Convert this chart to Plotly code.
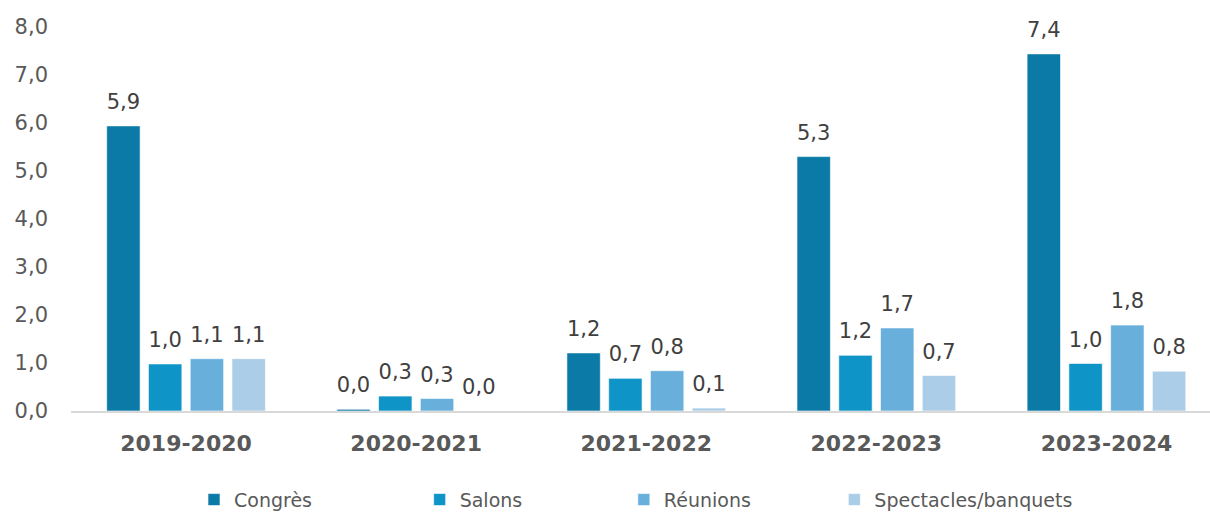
import plotly.graph_objects as go

SAISONS = ["2019-2020", "2020-2021", "2021-2022", "2022-2023", "2023-2024"]
CONGRES = [5.94, 0.035, 1.21, 5.30, 7.44]
SALONS = [0.98, 0.31, 0.68, 1.16, 0.99]
REUNIONS = [1.09, 0.26, 0.84, 1.73, 1.79]
SPECTACLES = [1.09, 0.0, 0.06, 0.74, 0.83]
Y_TICKS = [0, 1, 2, 3, 4, 5, 6, 7, 8]

SERIES = [
    ("Congrès", CONGRES, "#0b7aa6", 17),
    ("Salons", SALONS, "#0f94c7", 16),
    ("Réunions", REUNIONS, "#69afdb", 13),
    ("Spectacles/banquets", SPECTACLES, "#abcde8", 0),
]

FONT = "DejaVu Sans, sans-serif"
GAP = 0.274

fig = go.Figure()
for i, (name, vals, color, pad) in enumerate(SERIES):
    # espaces insécables : écart entre les entrées de légende
    fig.add_bar(
        x=SAISONS, y=vals, name=name + "\u00a0" * pad,
        offsetgroup=str(i),
        marker=dict(color=color, line=dict(color="rgba(255,255,255,0.6)", width=1)),
    )
# étiquettes de valeur (scatter groupé pour garder l'écart au-dessus des barres)
for i, (name, vals, color, pad) in enumerate(SERIES):
    fig.add_scatter(
        x=SAISONS, y=vals, offsetgroup=str(i), mode="markers+text",
        marker=dict(size=17, color="rgba(0,0,0,0)"),
        texttemplate="%{y:.1f}", textposition="top center",
        textfont=dict(size=21, color="#404040", family=FONT),
        showlegend=False, hoverinfo="skip", cliponaxis=False,
    )

fig.update_layout(
    width=1210, height=519,
    paper_bgcolor="white", plot_bgcolor="white",
    separators=", ",
    font=dict(family=FONT, color="#595959", size=20),
    margin=dict(l=71, r=0, t=27, b=103),
    barmode="group", bargap=GAP, bargroupgap=0.2,
    scattermode="group", scattergap=GAP,
    showlegend=True,
    legend=dict(
        orientation="h", x=0.108, xanchor="left", y=-0.231, yanchor="middle",
        font=dict(size=19, color="#595959", family=FONT),
        itemwidth=30, traceorder="normal",
    ),
)
fig.update_xaxes(
    range=[-0.5, 4.45], automargin=False,
    showline=True, linecolor="#d9d9d9", linewidth=2,
    showgrid=False, ticks="",
    tickfont=dict(size=22, color="#595959", family=FONT, weight="bold"),
    ticklabelstandoff=12,
)
fig.update_yaxes(
    range=[0, 8], tickvals=Y_TICKS, tickformat=".1f", automargin=False,
    showgrid=False, zeroline=False, showline=False,
    tickfont=dict(size=21, color="#595959", family=FONT),
    ticklabelstandoff=22,
)

# sans la marge par défaut du body, la figure occupe exactement la fenêtre
fig.write_html(
    "out.html",
    config={"displayModeBar": False},
    post_script="document.body.style.margin = '0';",
)
